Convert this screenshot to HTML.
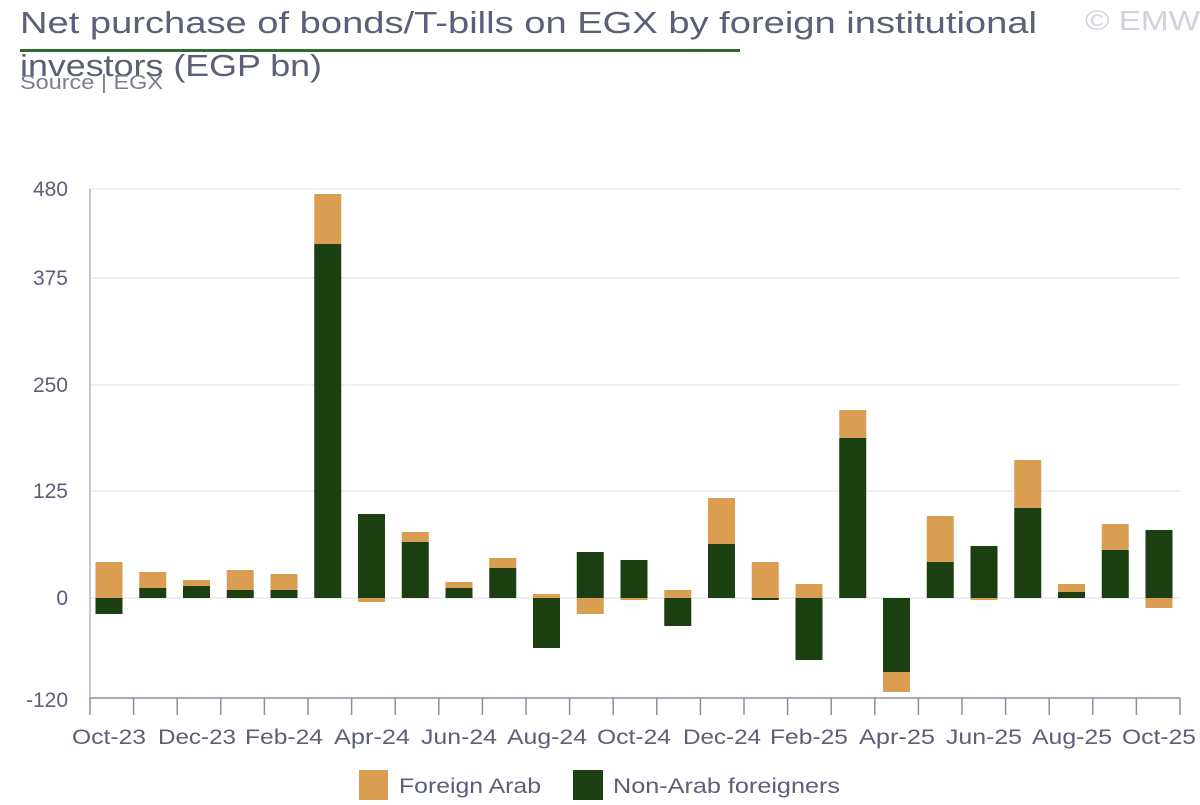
<!DOCTYPE html>
<html><head><meta charset="utf-8"><style>
body{margin:0;width:1200px;height:800px;background:#fff;overflow:hidden;font-family:"Liberation Sans",sans-serif;}
</style></head><body>
<svg width="1200" height="800" xmlns="http://www.w3.org/2000/svg" font-family="Liberation Sans, sans-serif">
<text x="20" y="33" font-size="31" fill="#5b5f78" textLength="1017" lengthAdjust="spacingAndGlyphs">Net purchase of bonds/T-bills on EGX by foreign institutional</text>
<text x="20" y="76" font-size="31" fill="#5b5f78" textLength="302" lengthAdjust="spacingAndGlyphs">investors (EGP bn)</text>
<text x="1085" y="30" font-size="28" fill="#cfd2da" textLength="115" lengthAdjust="spacingAndGlyphs">© EMW</text>
<rect x="20" y="49" width="720" height="3" fill="#2e6b2e"/>
<text x="20" y="89" font-size="20" fill="#7a7e90" textLength="143" lengthAdjust="spacingAndGlyphs">Source | EGX</text>
<g stroke="#d8e0e8" stroke-width="1">
<line x1="90" y1="189" x2="1180" y2="189"/><line x1="90" y1="278" x2="1180" y2="278"/>
<line x1="90" y1="385" x2="1180" y2="385"/><line x1="90" y1="491" x2="1180" y2="491"/>
<line x1="90" y1="598" x2="1180" y2="598"/>
</g>
<g font-size="21" fill="#5b5f78" text-anchor="end">
<text x="68" y="196">480</text><text x="68" y="285">375</text><text x="68" y="392">250</text>
<text x="68" y="498">125</text><text x="68" y="605">0</text><text x="68" y="707">-120</text>
</g>
<g fill="#1b3f10">
<rect x="95.5" y="598" width="27" height="16"/>
<rect x="139.25" y="588" width="27" height="10"/>
<rect x="183" y="586" width="27" height="12"/>
<rect x="226.75" y="590" width="27" height="8"/>
<rect x="270.5" y="590" width="27" height="8"/>
<rect x="314.25" y="244" width="27" height="354"/>
<rect x="358" y="514" width="27" height="84"/>
<rect x="401.75" y="542" width="27" height="56"/>
<rect x="445.5" y="588" width="27" height="10"/>
<rect x="489.25" y="568" width="27" height="30"/>
<rect x="533" y="598" width="27" height="50"/>
<rect x="576.75" y="552" width="27" height="46"/>
<rect x="620.5" y="560" width="27" height="38"/>
<rect x="664.25" y="598" width="27" height="28"/>
<rect x="708" y="544" width="27" height="54"/>
<rect x="751.75" y="598" width="27" height="2"/>
<rect x="795.5" y="598" width="27" height="62"/>
<rect x="839.25" y="438" width="27" height="160"/>
<rect x="883" y="598" width="27" height="74"/>
<rect x="926.75" y="562" width="27" height="36"/>
<rect x="970.5" y="546" width="27" height="52"/>
<rect x="1014.25" y="508" width="27" height="90"/>
<rect x="1058" y="592" width="27" height="6"/>
<rect x="1101.75" y="550" width="27" height="48"/>
<rect x="1145.5" y="530" width="27" height="68"/>
</g>
<g fill="#d99e52">
<rect x="95.5" y="562" width="27" height="36"/>
<rect x="139.25" y="572" width="27" height="16"/>
<rect x="183" y="580" width="27" height="6"/>
<rect x="226.75" y="570" width="27" height="20"/>
<rect x="270.5" y="574" width="27" height="16"/>
<rect x="314.25" y="194" width="27" height="50"/>
<rect x="358" y="598" width="27" height="4"/>
<rect x="401.75" y="532" width="27" height="10"/>
<rect x="445.5" y="582" width="27" height="6"/>
<rect x="489.25" y="558" width="27" height="10"/>
<rect x="533" y="594" width="27" height="4"/>
<rect x="576.75" y="598" width="27" height="16"/>
<rect x="620.5" y="598" width="27" height="2"/>
<rect x="664.25" y="590" width="27" height="8"/>
<rect x="708" y="498" width="27" height="46"/>
<rect x="751.75" y="562" width="27" height="36"/>
<rect x="795.5" y="584" width="27" height="14"/>
<rect x="839.25" y="410" width="27" height="28"/>
<rect x="883" y="672" width="27" height="20"/>
<rect x="926.75" y="516" width="27" height="46"/>
<rect x="970.5" y="598" width="27" height="2"/>
<rect x="1014.25" y="460" width="27" height="48"/>
<rect x="1058" y="584" width="27" height="8"/>
<rect x="1101.75" y="524" width="27" height="26"/>
<rect x="1145.5" y="598" width="27" height="10"/>
</g>
<line x1="90" y1="698" x2="1180" y2="698" stroke="#8a8fa0" stroke-width="1.5"/>
<line x1="90" y1="189" x2="90" y2="698" stroke="#8a8fa0" stroke-width="1"/>
<path stroke="#8a8fa0" stroke-width="1.5" d="M90 698v17M133.6 698v17M177.2 698v17M220.8 698v17M264.4 698v17M308 698v17M351.6 698v17M395.2 698v17M438.8 698v17M482.4 698v17M526 698v17M569.6 698v17M613.2 698v17M656.8 698v17M700.4 698v17M744 698v17M787.6 698v17M831.2 698v17M874.8 698v17M918.4 698v17M962 698v17M1005.6 698v17M1049.2 698v17M1092.8 698v17M1136.4 698v17M1180 698v17"/>
<g font-size="21" fill="#5b5f78" text-anchor="middle">
<text x="109" y="744" textLength="74" lengthAdjust="spacingAndGlyphs">Oct-23</text><text x="197" y="744" textLength="78" lengthAdjust="spacingAndGlyphs">Dec-23</text><text x="284" y="744" textLength="78" lengthAdjust="spacingAndGlyphs">Feb-24</text>
<text x="372" y="744" textLength="76" lengthAdjust="spacingAndGlyphs">Apr-24</text><text x="459" y="744" textLength="76" lengthAdjust="spacingAndGlyphs">Jun-24</text><text x="547" y="744" textLength="80" lengthAdjust="spacingAndGlyphs">Aug-24</text>
<text x="634" y="744" textLength="74" lengthAdjust="spacingAndGlyphs">Oct-24</text><text x="722" y="744" textLength="78" lengthAdjust="spacingAndGlyphs">Dec-24</text><text x="809" y="744" textLength="78" lengthAdjust="spacingAndGlyphs">Feb-25</text>
<text x="897" y="744" textLength="76" lengthAdjust="spacingAndGlyphs">Apr-25</text><text x="984" y="744" textLength="76" lengthAdjust="spacingAndGlyphs">Jun-25</text><text x="1072" y="744" textLength="80" lengthAdjust="spacingAndGlyphs">Aug-25</text>
<text x="1159" y="744" textLength="74" lengthAdjust="spacingAndGlyphs">Oct-25</text>
</g>
<rect x="359" y="770" width="29" height="30" fill="#d99e52"/>
<text x="399" y="793" font-size="21" fill="#5b5f78" textLength="142" lengthAdjust="spacingAndGlyphs">Foreign Arab</text>
<rect x="573" y="770" width="30" height="30" fill="#1b3f10"/>
<text x="613" y="793" font-size="21" fill="#5b5f78" textLength="227" lengthAdjust="spacingAndGlyphs">Non-Arab foreigners</text>
</svg>
</body></html>
